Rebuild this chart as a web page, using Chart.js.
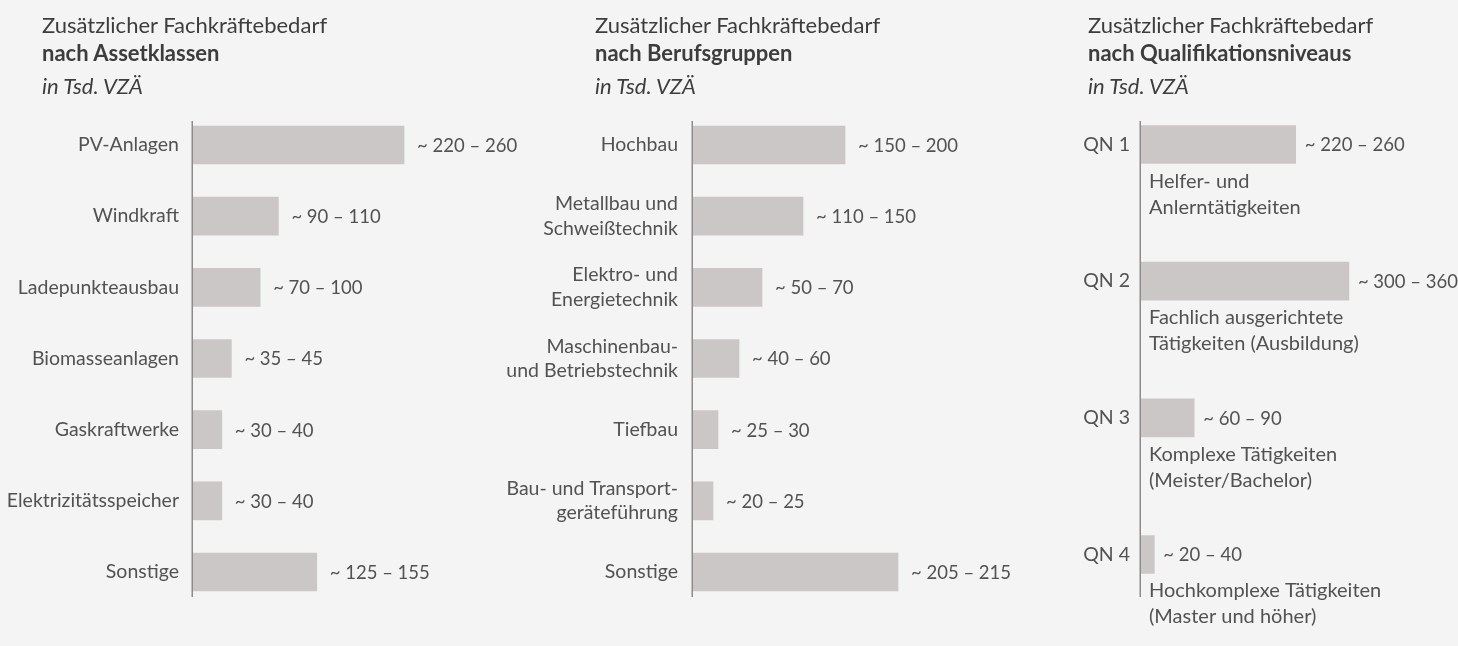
<!DOCTYPE html>
<html lang="de">
<head>
<meta charset="utf-8">
<script src="https://cdn.jsdelivr.net/npm/chart.js@4.4.1/dist/chart.umd.min.js"></script>
<style>
  html, body { margin: 0; padding: 0; background: #f4f4f4; }
  body { width: 1458px; height: 646px; position: relative; overflow: hidden; font-family: Lato, sans-serif; color: #3d3d3d; }
  .panel { position: absolute; top: 0; height: 646px; }
  .panel canvas { position: absolute; left: 0; top: 0; }
  .title { position: absolute; top: 11px; font-size: 22px; line-height: 28px; white-space: nowrap; }
  .title b { display: block; font-weight: 700; }
  .title i { display: block; margin-top: 5px; }
</style>
</head>
<body>

<div class="panel" style="left:0;width:560px">
  <canvas id="chart-asset" width="560" height="646"></canvas>
</div>
<div class="panel" style="left:480px;width:580px">
  <canvas id="chart-beruf" width="580" height="646"></canvas>
</div>
<div class="panel" style="left:1040px;width:418px">
  <canvas id="chart-qn" width="418" height="646"></canvas>
</div>

<div class="title" style="left:42px">Zusätzlicher Fachkräftebedarf<b>nach Assetklassen</b><i>in Tsd. VZÄ</i></div>
<div class="title" style="left:595px">Zusätzlicher Fachkräftebedarf<b>nach Berufsgruppen</b><i>in Tsd. VZÄ</i></div>
<div class="title" style="left:1088px">Zusätzlicher Fachkräftebedarf<b>nach Qualifikationsniveaus</b><i>in Tsd. VZÄ</i></div>

<script>
// Assetklassen
const assetLabels = ['PV-Anlagen', 'Windkraft', 'Ladepunkteausbau', 'Biomasseanlagen', 'Gaskraftwerke', 'Elektrizitätsspeicher', 'Sonstige'];
const assetValues = [220, 89, 70, 40, 30, 30, 129];
const assetRanges = ['~ 220 – 260', '~ 90 – 110', '~ 70 – 100', '~ 35 – 45', '~ 30 – 40', '~ 30 – 40', '~ 125 – 155'];

// Berufsgruppen
const berufLabels = ['Hochbau', ['Metallbau und', 'Schweißtechnik'], ['Elektro- und', 'Energietechnik'], ['Maschinenbau-', 'und Betriebstechnik'], 'Tiefbau', ['Bau- und Transport-', 'geräteführung'], 'Sonstige'];
const berufValues = [152, 110, 69, 46, 25, 20, 205];
const berufRanges = ['~ 150 – 200', '~ 110 – 150', '~ 50 – 70', '~ 40 – 60', '~ 25 – 30', '~ 20 – 25', '~ 205 – 215'];

// Qualifikationsniveaus
const qnLabels = ['QN 1', 'QN 2', 'QN 3', 'QN 4'];
const qnValues = [221, 297, 76, 19];
const qnRanges = ['~ 220 – 260', '~ 300 – 360', '~ 60 – 90', '~ 20 – 40'];
const qnNotes = [
    ['Helfer- und', 'Anlerntätigkeiten'],
    ['Fachlich ausgerichtete', 'Tätigkeiten (Ausbildung)'],
    ['Komplexe Tätigkeiten', '(Meister/Bachelor)'],
    ['Hochkomplexe Tätigkeiten', '(Master und höher)']
];

const textColor = '#525252';
const barColor = '#cbc7c6';
const fontFamily = 'Lato, sans-serif';

// Beschriftungen neben / unter den Balken + senkrechte Achse
const barTextPlugin = {
    id: 'barText',
    afterDatasetsDraw(chart, args, opts) {
        const ctx = chart.ctx;
        const area = chart.chartArea;
        const bars = chart.getDatasetMeta(0).data;

        ctx.save();
        // Achse
        ctx.strokeStyle = '#8c8c8c';
        ctx.lineWidth = 1.5;
        ctx.beginPath();
        ctx.moveTo(area.left - 0.75, opts.axisTop);
        ctx.lineTo(area.left - 0.75, opts.axisBottom);
        ctx.stroke();

        ctx.fillStyle = textColor;
        bars.forEach((bar, i) => {
            ctx.font = '18.5px ' + fontFamily;
            ctx.textAlign = 'left';
            ctx.textBaseline = 'middle';
            ctx.fillText(opts.ranges[i], bar.x + opts.gap, bar.y + 1);

            if (opts.notes) {
                ctx.font = '20px ' + fontFamily;
                ctx.textBaseline = 'alphabetic';
                const y0 = bar.y + bar.height / 2 + 24;
                opts.notes[i].forEach((line, k) => {
                    ctx.fillText(line, area.left + 8, y0 + k * 26);
                });
            }
        });
        ctx.restore();
    }
};

function makeChart(id, labels, values, cfg) {
    return new Chart(document.getElementById(id), {
        type: 'bar',
        data: {
            labels: labels,
            datasets: [{
                data: values,
                backgroundColor: barColor,
                borderWidth: 0,
                barThickness: 38
            }]
        },
        options: {
            indexAxis: 'y',
            responsive: false,
            animation: false,
            devicePixelRatio: 1,
            layout: {
                padding: { left: 0, top: cfg.padTop, bottom: cfg.padBottom, right: cfg.padRight }
            },
            plugins: {
                legend: { display: false },
                tooltip: { enabled: false },
                barText: {
                    ranges: cfg.ranges,
                    notes: cfg.notes,
                    gap: cfg.gap,
                    axisTop: 121,
                    axisBottom: 597
                }
            },
            scales: {
                x: { display: false, min: 0, max: cfg.max },
                y: {
                    offset: true,
                    grid: { display: false, drawTicks: false },
                    border: { display: false },
                    ticks: {
                        padding: cfg.tickPad,
                        color: textColor,
                        font: { family: fontFamily, size: 19.5, lineHeight: 1.25 }
                    },
                    afterFit(scale) { scale.width = cfg.axisX; }
                }
            }
        },
        plugins: [barTextPlugin]
    });
}

makeChart('chart-asset', assetLabels, assetValues, {
    axisX: 193, max: 320, padRight: 60, padTop: 109.4, padBottom: 38.4,
    tickPad: 14, gap: 13, ranges: assetRanges
});

makeChart('chart-beruf', berufLabels, berufValues, {
    axisX: 213, max: 320, padRight: 47, padTop: 109.4, padBottom: 38.4,
    tickPad: 15, gap: 13, ranges: berufRanges
});

makeChart('chart-qn', qnLabels, qnValues, {
    axisX: 101, max: 400, padRight: 37, padTop: 76.2, padBottom: 3.1,
    tickPad: 11, gap: 9, ranges: qnRanges, notes: qnNotes
});
</script>
</body>
</html>
